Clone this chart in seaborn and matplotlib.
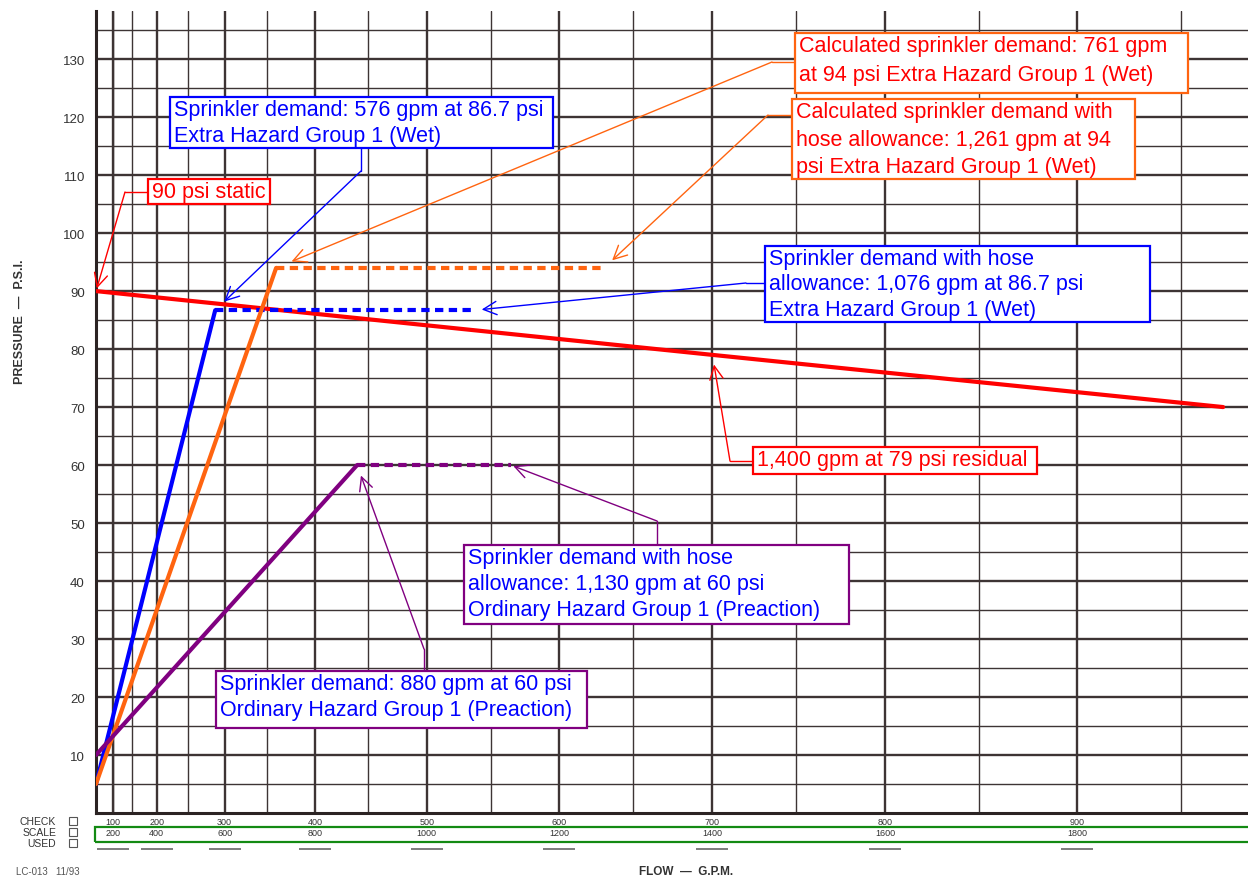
import numpy as np
import seaborn as sns
import matplotlib.pyplot as plt
import matplotlib.transforms as mtransforms
from matplotlib.patches import Rectangle
from matplotlib.lines import Line2D

W, H = 1248, 878

# ---- data (gpm, psi) ----
supply_gpm = [0, 1400, 1940]
supply_psi = [90, 79, 70]

eh_wet_gpm = [0, 576]
eh_wet_psi = [5, 86.7]
eh_wet_hose_gpm = [576, 1076]
eh_wet_hose_psi = [86.7, 86.7]

calc_gpm = [0, 720]
calc_psi = [5, 94]
calc_hose_gpm = [720, 1261]
calc_hose_psi = [94, 94]

oh_pre_gpm = [0, 880]
oh_pre_psi = [10, 60]
oh_pre_hose_gpm = [880, 1130]
oh_pre_hose_psi = [60, 60]

psi_labels = list(range(10, 140, 10))
scale_top = [100, 200, 300, 400, 500, 600, 700, 800, 900]
scale_used = [200, 400, 600, 800, 1000, 1200, 1400, 1600, 1800]

# ---- style ----
sns.set_theme(style="white")
plt.rcParams['font.family'] = ['Liberation Sans', 'DejaVu Sans']

BLUE = '#0000ff'
RED = '#ff0000'
ORANGE = '#ff6410'
PURPLE = '#800080'
GRID = '#3d3434'


def fwd(q):
    q = np.asarray(q, dtype=float)
    return np.sign(q) * np.abs(q) ** 1.85


def inv(v):
    v = np.asarray(v, dtype=float)
    return np.sign(v) * np.abs(v) ** (1 / 1.85)


fig = plt.figure(figsize=(W / 100, H / 100), dpi=100)
ax = fig.add_axes([96 / W, 1 - 814 / H, 1152 / W, 802 / H])
ax.set_xscale('function', functions=(fwd, inv))
ax.set_xlim(0, 1963)
ax.set_ylim(0, 138.3)

# graph-paper grid (N^1.85)
for q in [200, 300, 500, 700, 900, 1100, 1300, 1500, 1700, 1900]:
    ax.axvline(q, color=GRID, lw=1.0, zorder=0)
for q in scale_used:
    ax.axvline(q, color=GRID, lw=1.7, zorder=0)
for p in range(5, 140, 10):
    ax.axhline(p, color=GRID, lw=1.0, zorder=0)
for p in psi_labels:
    ax.axhline(p, color=GRID, lw=1.7, zorder=0)

for s in ['top', 'right']:
    ax.spines[s].set_visible(False)
for s in ['left', 'bottom']:
    ax.spines[s].set_color('#2b2323')
    ax.spines[s].set_linewidth(2.2)

ax.set_xticks(np.arange(20, 1961, 20))
ax.set_xticklabels([])
ax.set_yticks(psi_labels)
ax.set_yticklabels([str(p) for p in psi_labels])
ax.set_yticks(np.arange(1, 138, 1), minor=True)
ax.tick_params(axis='x', direction='in', length=4.5, width=1.0, color='#2b2323')
ax.tick_params(axis='y', which='both', direction='in', length=4.5, width=1.0,
               color='#2b2323', labelsize=9.5, labelcolor='#333333', pad=8)
ax.set_xlabel('')
ax.set_ylabel('')

# ---- curves ----
sns.lineplot(x=supply_gpm, y=supply_psi, ax=ax, color=RED, lw=3.0, zorder=3)
sns.lineplot(x=eh_wet_gpm, y=eh_wet_psi, ax=ax, color=BLUE, lw=3.0, zorder=3)
sns.lineplot(x=eh_wet_hose_gpm, y=eh_wet_hose_psi, ax=ax, color=BLUE, lw=3.0,
             linestyle=(0, (2, 1.3)), zorder=3)
sns.lineplot(x=calc_gpm, y=calc_psi, ax=ax, color=ORANGE, lw=3.0, zorder=3)
sns.lineplot(x=calc_hose_gpm, y=calc_hose_psi, ax=ax, color=ORANGE, lw=3.0,
             linestyle=(0, (2, 1.3)), zorder=3)
sns.lineplot(x=oh_pre_gpm, y=oh_pre_psi, ax=ax, color=PURPLE, lw=3.0, zorder=3)
sns.lineplot(x=oh_pre_hose_gpm, y=oh_pre_hose_psi, ax=ax, color=PURPLE, lw=3.0,
             linestyle=(0, (2, 1.3)), zorder=3)


# ---- callouts ----
FS = 15.5


def callout(text, box, tcolor, ecolor, leg, target, shrink, ls=1.31):
    x0, y0, x1, y1 = box
    fig.add_artist(Rectangle((x0 / W, 1 - y1 / H), (x1 - x0) / W, (y1 - y0) / H,
                             transform=fig.transFigure, fc='white', ec=ecolor,
                             lw=1.6, zorder=5))
    fig.text((x0 + 4) / W, 1 - (y0 + 2) / H, text, ha='left', va='top',
             fontsize=FS, color=tcolor, linespacing=ls, zorder=6)
    (ax1, ay1), (ax2, ay2) = leg
    fig.add_artist(Line2D([ax1 / W, ax2 / W], [1 - ay1 / H, 1 - ay2 / H],
                          transform=fig.transFigure, color=ecolor, lw=1.0,
                          zorder=4))
    ax.annotate('', xy=target, xycoords='data',
                xytext=(ax2, H - ay2), textcoords='figure pixels',
                annotation_clip=False,
                arrowprops=dict(arrowstyle='->,head_length=0.8,head_width=0.4',
                                color=ecolor, lw=1.0, shrinkA=0, shrinkB=shrink))


callout('90 psi static', (148, 180, 270, 205), RED, RED,
        ((148, 193), (125, 193)), (0, 90), 2)
callout('Sprinkler demand: 576 gpm at 86.7 psi\nExtra Hazard Group 1 (Wet)',
        (170, 98, 553, 149), BLUE, BLUE,
        ((361, 149), (361, 172)), (576, 86.7), 9)
callout('Calculated sprinkler demand: 761 gpm\nat 94 psi Extra Hazard Group 1 (Wet)',
        (795, 34, 1188, 94), RED, ORANGE,
        ((795, 63), (772, 63)), (720, 94), 12, ls=1.47)
callout('Calculated sprinkler demand with\nhose allowance: 1,261 gpm at 94\n'
        'psi Extra Hazard Group 1 (Wet)',
        (792, 100, 1135, 180), RED, ORANGE,
        ((792, 116), (768, 116)), (1261, 94), 8, ls=1.42)
callout('Sprinkler demand with hose\nallowance: 1,076 gpm at 86.7 psi\n'
        'Extra Hazard Group 1 (Wet)',
        (765, 247, 1150, 323), BLUE, BLUE,
        ((765, 284), (746, 284)), (1076, 86.7), 5, ls=1.27)
callout('1,400 gpm at 79 psi residual', (753, 448, 1037, 475), RED, RED,
        ((753, 462), (730, 462)), (1400, 79), 7)
callout('Sprinkler demand with hose\nallowance: 1,130 gpm at 60 psi\n'
        'Ordinary Hazard Group 1 (Preaction)',
        (464, 546, 849, 625), BLUE, PURPLE,
        ((657, 546), (657, 522)), (1130, 60), 2)
callout('Sprinkler demand: 880 gpm at 60 psi\nOrdinary Hazard Group 1 (Preaction)',
        (216, 672, 587, 729), BLUE, PURPLE,
        ((424, 672), (424, 650)), (880, 60), 8)

# ---- flow scale rows ----
blend = mtransforms.blended_transform_factory(ax.transData, fig.transFigure)
for t, u in zip(scale_top, scale_used):
    ax.text(u, 1 - 823 / H, str(t), transform=blend, ha='center', va='center',
            fontsize=6.5, color='#333333', clip_on=False)
    ax.text(u, 1 - 834 / H, str(u), transform=blend, ha='center', va='center',
            fontsize=6.5, color='#333333', clip_on=False)
    ax.plot([u], [1 - 850 / H], transform=blend, marker='_', ms=23, mew=1.2,
            color='#666666', clip_on=False)
fig.add_artist(Rectangle((95 / W, 1 - 843 / H), 1160 / W, 15 / H,
                         transform=fig.transFigure, fill=False,
                         ec='#138a13', lw=1.6))

for i, word in enumerate(['CHECK', 'SCALE', 'USED']):
    yy = 822 + 11 * i
    fig.text(56 / W, 1 - yy / H, word, ha='right', va='center', fontsize=7.5,
             color='#333333')
    fig.add_artist(Rectangle((69 / W, 1 - (yy + 4) / H), 8 / W, 8 / H,
                             transform=fig.transFigure, fill=False,
                             ec='#555555', lw=0.8))

fig.text(16 / W, 1 - 872 / H, 'LC-013   11/93', ha='left', va='center',
         fontsize=7, color='#555555')
fig.text(686 / W, 1 - 872 / H, 'FLOW  —  G.P.M.', ha='center', va='center',
         fontsize=8.5, fontweight='bold', color='#333333')
fig.text(20 / W, 1 - 322 / H, 'PRESSURE  —  P.S.I.', ha='center', va='center',
         rotation=90, fontsize=9, fontweight='bold', color='#333333')

fig.savefig('out.png', dpi=100)
